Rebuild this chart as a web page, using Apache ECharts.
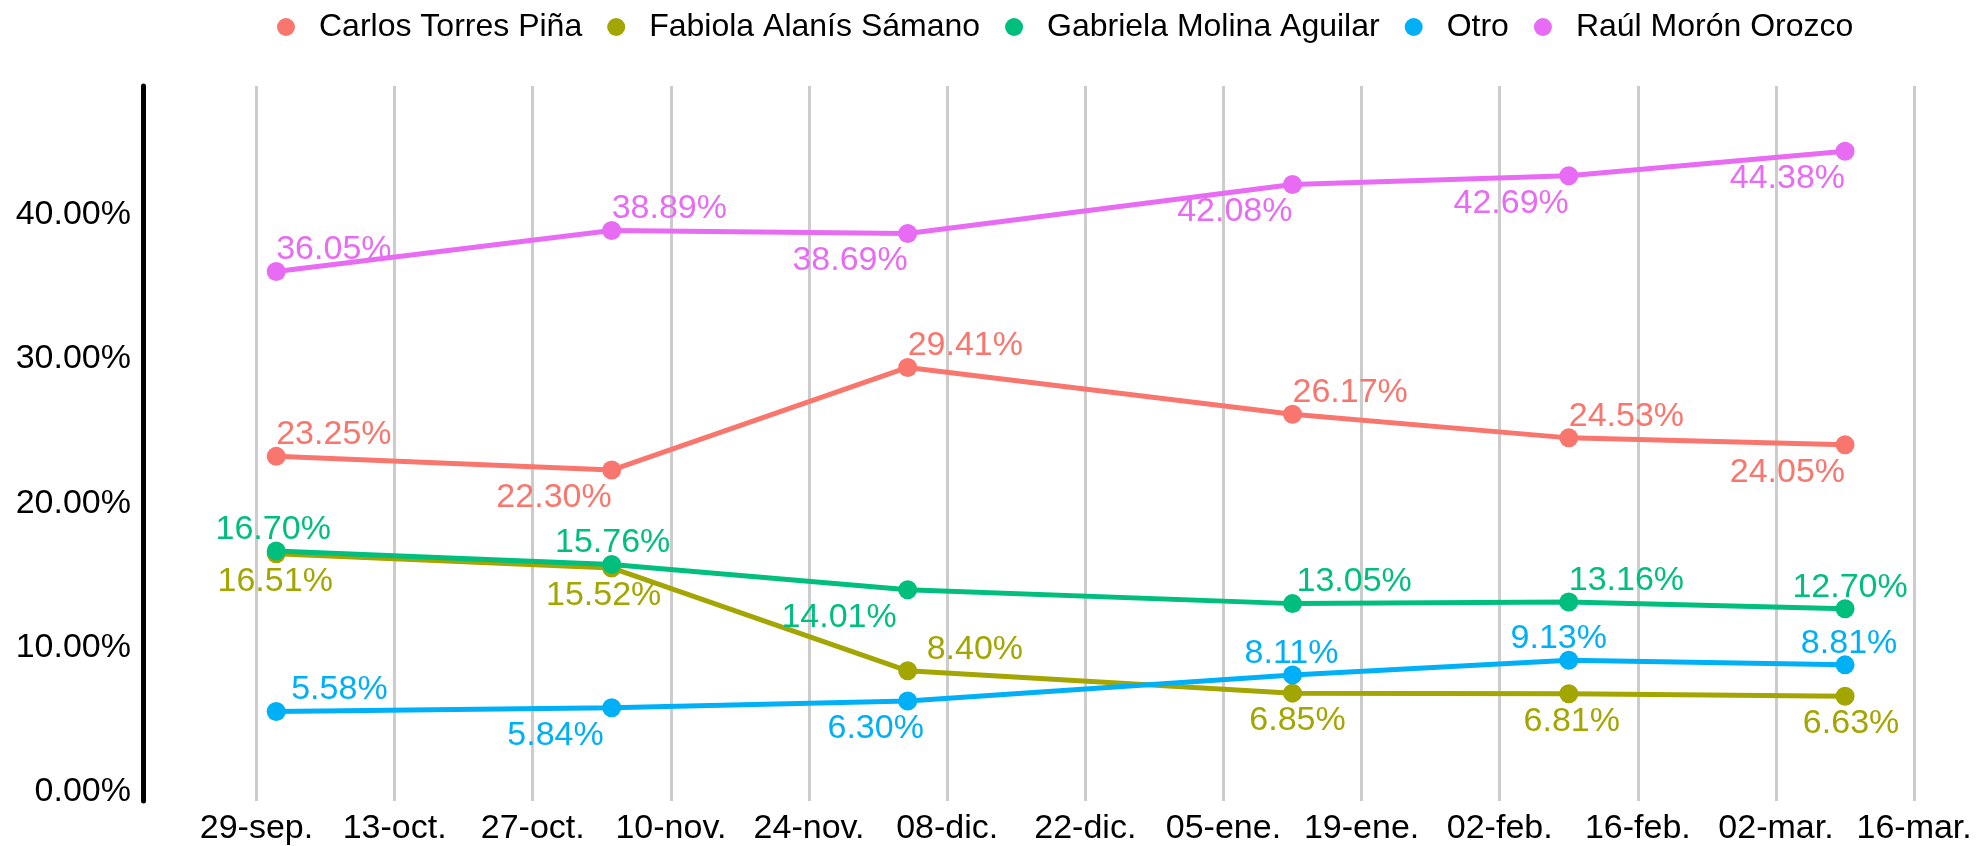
<!DOCTYPE html>
<html>
<head>
<meta charset="utf-8">
<script src="https://cdn.jsdelivr.net/npm/echarts@6/dist/echarts.min.js"></script>
<style>
html, body { margin: 0; padding: 0; background: #fff; }
#chart { width: 1977px; height: 846px; }
</style>
</head>
<body>
<div id="chart"></div>
<script>
(function() {

// fechas de cada encuesta
let fechas = ['2025-10-01', '2025-11-04', '2025-12-04', '2026-01-12', '2026-02-09', '2026-03-09']

let candidatos = ['Carlos Torres Piña', 'Fabiola Alanís Sámano', 'Gabriela Molina Aguilar', 'Otro', 'Raúl Morón Orozco']

let carlos   = [23.25, 22.30, 29.41, 26.17, 24.53, 24.05]
let fabiola  = [16.51, 15.52, 8.40, 6.85, 6.81, 6.63]
let gabriela = [16.70, 15.76, 14.01, 13.05, 13.16, 12.70]
let otro     = [5.58, 5.84, 6.30, 8.11, 9.13, 8.81]
let raul     = [36.05, 38.89, 38.69, 42.08, 42.69, 44.38]

// etiquetas del eje x (cada 2 semanas)
let ticksX = ['2025-09-29', '2025-10-13', '2025-10-27', '2025-11-10', '2025-11-24', '2025-12-08',
    '2025-12-22', '2026-01-05', '2026-01-19', '2026-02-02', '2026-02-16', '2026-03-02', '2026-03-16']
let ticksY = [0, 10, 20, 30, 40]
let meses = ['ene.', 'feb.', 'mar.', 'abr.', 'may.', 'jun.', 'jul.', 'ago.', 'sep.', 'oct.', 'nov.', 'dic.']

let colores = ['#F8766D', '#A3A500', '#00BF7D', '#00B0F6', '#E76BF3']

// donde va cada etiqueta: [arriba/abajo, alineacion, desplazamiento x]
let posCarlos   = [['a', 'left', 0], ['b', 'right', 0], ['a', 'left', 0], ['a', 'left', 0], ['a', 'left', 0], ['b', 'right', 0]]
let posFabiola  = [['b', 'center', -1], ['b', 'center', -8], ['a', 'left', 19], ['b', 'center', 5], ['b', 'center', 3], ['b', 'center', 6]]
let posGabriela = [['a', 'center', -3], ['a', 'center', 1], ['b', 'right', -11], ['a', 'left', 4], ['a', 'left', 0], ['a', 'center', 5]]
let posOtro     = [['a', 'left', 15], ['b', 'right', -8], ['b', 'center', -32], ['a', 'center', -1], ['a', 'center', -10], ['a', 'center', 4]]
let posRaul     = [['a', 'left', 0], ['a', 'left', 0], ['b', 'right', 0], ['b', 'right', 0], ['b', 'right', 0], ['b', 'right', 0]]

let valores = [carlos, fabiola, gabriela, otro, raul]
let posiciones = [posCarlos, posFabiola, posGabriela, posOtro, posRaul]

const fuente = "'Liberation Sans', Arial, sans-serif"
const dia = 24 * 3600 * 1000

// fecha -> dias (timestamp/dia) para usar un eje numerico
function ts(s) {
    let p = s.split('-')
    return Date.UTC(+p[0], +p[1] - 1, +p[2]) / dia
}

let series = candidatos.map((nombre, i) => ({
    name: nombre,
    type: 'line',
    symbol: 'circle',
    symbolSize: 19,
    color: colores[i],
    lineStyle: { width: 5 },
    data: valores[i].map((v, j) => {
        let p = posiciones[i][j]
        return {
            value: [ts(fechas[j]), v],
            label: {
                show: true,
                position: p[0] == 'a' ? 'top' : 'bottom',
                align: p[1],
                offset: [p[2], p[0] == 'a' ? 5 : 1],
                distance: 0,
                formatter: v.toFixed(2) + '%',
                color: colores[i],
                fontSize: 34,
                fontFamily: fuente
            }
        }
    })
}))

let chart = echarts.init(document.getElementById('chart'))
chart.setOption({
    animation: false,
    backgroundColor: '#fff',
    textStyle: { fontFamily: fuente },
    legend: {
        top: 6,
        left: 272,
        icon: 'circle',
        itemWidth: 56,
        itemHeight: 18,
        itemGap: 25,
        textStyle: { fontSize: 32, color: '#000', fontFamily: fuente },
        data: candidatos
    },
    grid: { left: 143, right: 53, top: 86, bottom: 45, outerBoundsMode: 'none' },
    xAxis: {
        type: 'value',
        min: ts(ticksX[0]) - 11.5,
        max: ts(ticksX[ticksX.length - 1]) + 1,
        axisLine: { show: false },
        axisTick: { show: false, customValues: ticksX.map(ts) },
        splitLine: { show: true, lineStyle: { color: '#cccccc', width: 3 } },
        axisLabel: {
            customValues: ticksX.map(ts),
            margin: 11,
            fontSize: 34,
            color: '#000',
            fontFamily: fuente,
            hideOverlap: false,
            formatter: function(val) {
                let d = new Date(val * dia)
                return String(d.getUTCDate()).padStart(2, '0') + '-' + meses[d.getUTCMonth()]
            }
        }
    },
    yAxis: {
        type: 'value',
        min: -0.62,
        max: 48.9,
        axisLine: { show: true, lineStyle: { color: '#000', width: 5 } },
        axisTick: { show: false },
        splitLine: { show: false },
        axisLabel: {
            customValues: ticksY,
            margin: 12,
            fontSize: 34,
            color: '#000',
            fontFamily: fuente,
            formatter: v => v.toFixed(2) + '%'
        }
    },
    series: series
})

})()
</script>
</body>
</html>
